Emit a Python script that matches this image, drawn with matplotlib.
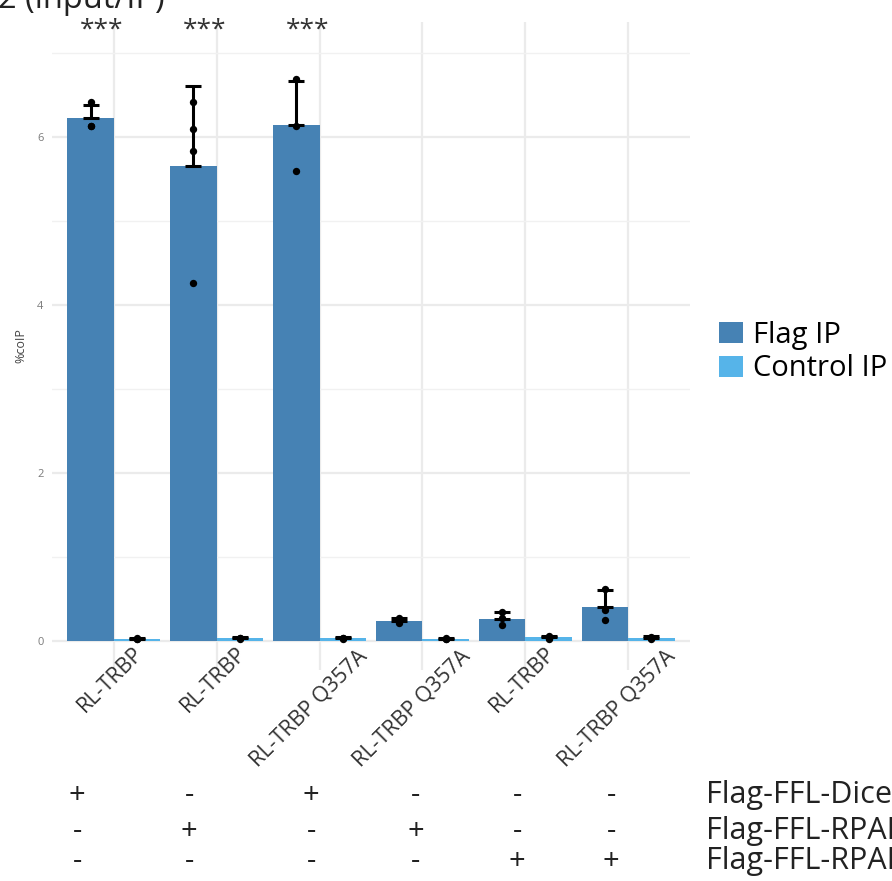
import matplotlib
matplotlib.use('Agg')
import matplotlib.pyplot as plt
from matplotlib.transforms import ScaledTranslation, blended_transform_factory
import numpy as np

plt.rcParams['font.family'] = ['Open Sans', 'DejaVu Sans']

# ---------------- data ----------------
categories = ['RL-TRBP', 'RL-TRBP', 'RL-TRBP Q357A', 'RL-TRBP Q357A', 'RL-TRBP', 'RL-TRBP Q357A']
series_names = ['Flag IP', 'Control IP']

flag_mean = [6.23, 5.65, 6.14, 0.24, 0.265, 0.41]
flag_sd = [0.15, 0.96, 0.53, 0.03, 0.075, 0.20]
flag_points = [[6.42, 6.13, 6.13],
               [6.42, 6.10, 5.83, 4.26],
               [6.69, 6.13, 5.60],
               [0.27, 0.24, 0.21],
               [0.34, 0.27, 0.19],
               [0.62, 0.37, 0.25]]

control_mean = [0.03, 0.035, 0.035, 0.03, 0.045, 0.04]
control_sd = [0.01, 0.01, 0.01, 0.01, 0.02, 0.015]
control_points = [[0.02, 0.03, 0.04],
                  [0.03, 0.035, 0.04],
                  [0.03, 0.035, 0.04],
                  [0.02, 0.03, 0.04],
                  [0.03, 0.04, 0.06],
                  [0.03, 0.04, 0.05]]

significance = ['***', '***', '***', '', '', '']
y_ticks = [0, 2, 4, 6]
y_minor_ticks = [1, 3, 5, 7]

condition_names = ['Flag-FFL-Dicer', 'Flag-FFL-RPAF', 'Flag-FFL-RPAF']
condition_signs = [['+', '-', '+', '-', '-', '-'],
                   ['-', '+', '-', '+', '-', '-'],
                   ['-', '-', '-', '-', '+', '+']]

# ---------------- style ----------------
W, H = 892, 881
FLAG_C = '#4682B4'
CTRL_C = '#56B4E9'
GRID_C = '#EBEBEB'

fig = plt.figure(figsize=(W / 100, H / 100), dpi=100)
ax = fig.add_axes([52 / W, 1 - 670 / H, 638 / W, 648 / H])

x = np.arange(len(categories))
bw = 0.45

ax.bar(x - bw / 2, flag_mean, bw, color=FLAG_C, zorder=2, label=series_names[0])
ax.bar(x + bw / 2, control_mean, bw, color=CTRL_C, zorder=2, label=series_names[1])

ax.errorbar(x - bw / 2, flag_mean, yerr=[np.zeros(len(x)), flag_sd], fmt='none',
            ecolor='black', elinewidth=2.2, capsize=5.5, capthick=2.2, zorder=3)
ax.errorbar(x + bw / 2, control_mean, yerr=[np.zeros(len(x)), control_sd], fmt='none',
            ecolor='black', elinewidth=2.2, capsize=5.5, capthick=2.2, zorder=3)

for i in range(len(x)):
    ax.scatter([x[i] - bw / 2] * len(flag_points[i]), flag_points[i], s=28,
               color='black', zorder=4, linewidths=0)
    ax.scatter([x[i] + bw / 2] * len(control_points[i]), control_points[i], s=28,
               color='black', zorder=4, linewidths=0)

ax.set_xlim(-0.6, 5.6)
ax.set_ylim(-0.345, 7.37)
ax.set_xticks(x)
ax.set_xticklabels([])
ax.set_yticks(y_ticks)
ax.set_yticks(y_minor_ticks, minor=True)
ax.set_yticklabels([str(t) for t in y_ticks])
ax.tick_params(axis='both', which='both', length=0)
ax.tick_params(axis='y', labelsize=8, labelcolor='#7a7a7a', pad=6)
ax.grid(which='major', color=GRID_C, lw=1.6, zorder=0)
ax.grid(which='minor', axis='y', color='#F1F1F1', lw=1.0, zorder=0)
ax.set_axisbelow(True)
for s in ax.spines.values():
    s.set_visible(False)

ax.set_ylabel('%coIP', fontsize=9, color='#444444')
ax.yaxis.set_label_coords(-0.038, 0.5)

# significance stars
for i, s in enumerate(significance):
    if s:
        ax.text(x[i] - 0.12, 7.2, s, ha='center', va='baseline', fontsize=19,
                color='#333333', clip_on=False)

# rotated category labels
for i, lab in enumerate(categories):
    n = len(lab)
    dx_px = -3 - (n - 7) * 8 / 6
    cy_px = 680 + (n - 7) * 28 / 6
    tr = blended_transform_factory(ax.transData, fig.transFigure) + \
        ScaledTranslation(dx_px / 100, 0, fig.dpi_scale_trans)
    fig.text(x[i], 1 - cy_px / H, lab, transform=tr, rotation=45,
             rotation_mode='anchor', ha='center', va='center', fontsize=15.5,
             color='#333333')

# legend
ax.legend(loc='center left', bbox_to_anchor=(719 / W, 1 - 352 / H),
          bbox_transform=fig.transFigure, frameon=False, fontsize=21,
          handlelength=0.83, handleheight=0.76, handletextpad=0.35,
          labelspacing=0.17, borderpad=0, borderaxespad=0)

# partially visible title at top
fig.text(-0.002, 1 - 8 / H, '2 (input/IP)', fontsize=23.5, ha='left', va='baseline',
         color='#222222')

# condition table
sign_x_px = [77, 189, 311, 416, 517, 611]
row_baseline_px = [803, 839, 869]
for r, name in enumerate(condition_names):
    yb = 1 - row_baseline_px[r] / H
    for c, sgn in enumerate(condition_signs[r]):
        fig.text(sign_x_px[c] / W, yb, sgn, ha='center', va='baseline', fontsize=21,
                 color='#222222')
    fig.text(706 / W, yb, name, ha='left', va='baseline', fontsize=22, color='#222222')

fig.savefig('out.png', dpi=100)
